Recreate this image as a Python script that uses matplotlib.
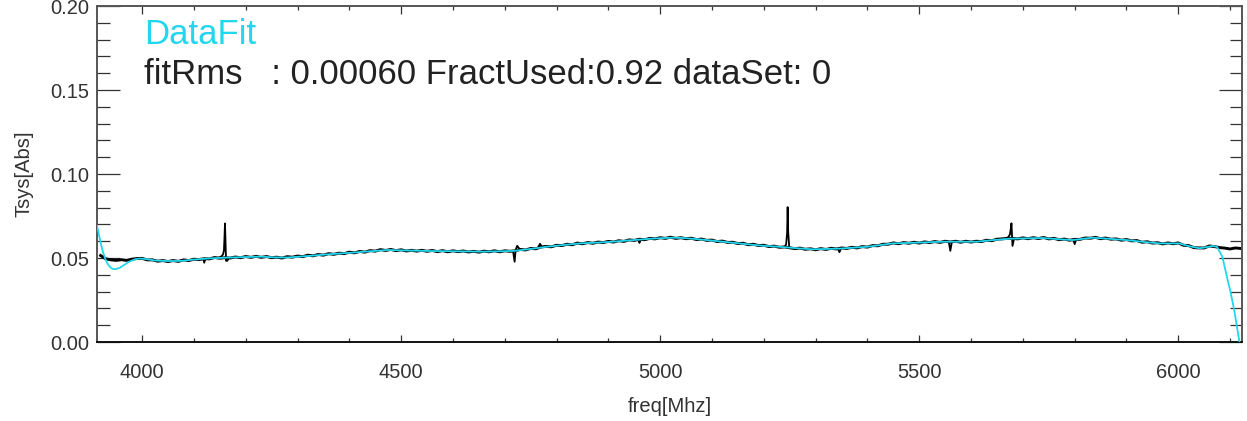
import numpy as np
import matplotlib
matplotlib.use("Agg")
from matplotlib import pyplot as plt
from matplotlib.ticker import MultipleLocator, FormatStrFormatter

plt.rcParams['font.family'] = ['Liberation Sans', 'DejaVu Sans']

# measured spectrum, 10 MHz steps from 3920 to 6120 MHz
freq = np.arange(3920, 6121, 10)
tsys = [
    0.0515, 0.0495, 0.0489, 0.0486, 0.0490, 0.0486, 0.0493, 0.0497, 0.0498, 0.0489,
    0.0489, 0.0481, 0.0485, 0.0479, 0.0485, 0.0480, 0.0489, 0.0485, 0.0493, 0.0491,
    0.0496, 0.0495, 0.0503, 0.0499, 0.0502, 0.0500, 0.0506, 0.0502, 0.0509, 0.0504,
    0.0510, 0.0504, 0.0509, 0.0502, 0.0505, 0.0500, 0.0508, 0.0505, 0.0512, 0.0508,
    0.0517, 0.0513, 0.0521, 0.0517, 0.0526, 0.0522, 0.0529, 0.0526, 0.0535, 0.0531,
    0.0539, 0.0535, 0.0544, 0.0541, 0.0550, 0.0545, 0.0551, 0.0544, 0.0549, 0.0542,
    0.0546, 0.0541, 0.0546, 0.0540, 0.0545, 0.0538, 0.0544, 0.0537, 0.0543, 0.0538,
    0.0542, 0.0536, 0.0540, 0.0535, 0.0541, 0.0537, 0.0543, 0.0537, 0.0543, 0.0540,
    0.0543, 0.0551, 0.0548, 0.0557, 0.0555, 0.0566, 0.0569, 0.0567, 0.0576, 0.0574,
    0.0582, 0.0579, 0.0589, 0.0585, 0.0592, 0.0588, 0.0595, 0.0592, 0.0599, 0.0595,
    0.0603, 0.0599, 0.0608, 0.0605, 0.0612, 0.0609, 0.0617, 0.0614, 0.0621, 0.0617,
    0.0624, 0.0617, 0.0621, 0.0615, 0.0618, 0.0610, 0.0613, 0.0605, 0.0607, 0.0598,
    0.0601, 0.0593, 0.0594, 0.0586, 0.0588, 0.0579, 0.0582, 0.0574, 0.0576, 0.0568,
    0.0571, 0.0564, 0.0566, 0.0561, 0.0556, 0.0559, 0.0552, 0.0555, 0.0549, 0.0556,
    0.0551, 0.0558, 0.0554, 0.0560, 0.0557, 0.0564, 0.0560, 0.0568, 0.0565, 0.0574,
    0.0573, 0.0582, 0.0582, 0.0590, 0.0585, 0.0592, 0.0588, 0.0594, 0.0589, 0.0596,
    0.0592, 0.0598, 0.0593, 0.0600, 0.0595, 0.0600, 0.0594, 0.0600, 0.0595, 0.0600,
    0.0598, 0.0606, 0.0603, 0.0612, 0.0614, 0.0617, 0.0617, 0.0614, 0.0620, 0.0615,
    0.0621, 0.0616, 0.0622, 0.0614, 0.0617, 0.0609, 0.0613, 0.0606, 0.0611, 0.0611,
    0.0619, 0.0618, 0.0623, 0.0615, 0.0619, 0.0612, 0.0614, 0.0606, 0.0610, 0.0602,
    0.0604, 0.0594, 0.0597, 0.0589, 0.0591, 0.0584, 0.0590, 0.0585, 0.0590, 0.0576,
    0.0574, 0.0562, 0.0560, 0.0560, 0.0572, 0.0568, 0.0562, 0.0559, 0.0554, 0.0560,
    0.0557,
]

# narrow spectral features (spikes)
spike_freqs = [
    [4146, 4152, 4156, 4158, 4159, 4160, 4161, 4162, 4164, 4168],
    [4118, 4120, 4122],
    [4716, 4719, 4721, 4724, 4727, 4730],
    [4764, 4768, 4772],
    [4957, 4960, 4963],
    [5236, 5240, 5243, 5245, 5246, 5247, 5249, 5252, 5256],
    [5343, 5346, 5349],
    [5557, 5560, 5563],
    [5668, 5672, 5675, 5677, 5678, 5679, 5680, 5683],
    [5797, 5800, 5803],
]
spike_vals = [
    [0.0500, 0.0507, 0.0520, 0.0545, 0.0620, 0.0706, 0.0600, 0.0484, 0.0483, 0.0500],
    [0.0494, 0.0472, 0.0494],
    [0.0542, 0.0478, 0.0548, 0.0573, 0.0560, 0.0551],
    [0.0560, 0.0585, 0.0565],
    [0.0610, 0.0590, 0.0612],
    [0.0565, 0.0568, 0.0580, 0.0650, 0.0803, 0.0660, 0.0565, 0.0560, 0.0560],
    [0.0555, 0.0535, 0.0556],
    [0.0597, 0.0543, 0.0597],
    [0.0617, 0.0625, 0.0640, 0.0680, 0.0707, 0.0640, 0.0572, 0.0615],
    [0.0608, 0.0583, 0.0610],
]

# fitted curve
fit_freq = [3913, 3916, 3920, 3925, 3930, 3935, 3940, 3945, 3950, 3957, 3965, 3975,
            3986, 3995, 4005, 4025, 4050, 4075, 4100, 4130, 4160, 4200, 4231, 4255,
            4280, 4320, 4359, 4410, 4474, 4510, 4552, 4610, 4658, 4690, 4716, 4750,
            4781, 4815, 4845, 4880, 4908, 4940, 4974, 5000, 5024, 5045, 5070, 5100,
            5134, 5165, 5198, 5225, 5246, 5270, 5294, 5320, 5346, 5375, 5400, 5425,
            5448, 5500, 5545, 5610, 5640, 5674, 5705, 5738, 5770, 5796, 5815, 5834,
            5865, 5900, 5930, 5963, 6002, 6020, 6041, 6055, 6066, 6075, 6085, 6095,
            6100, 6108, 6118, 6124]
fit_vals = [0.0690, 0.0650, 0.0590, 0.0530, 0.0487, 0.0458, 0.0441, 0.0434, 0.0435,
            0.0442, 0.0458, 0.0478, 0.0492, 0.0497, 0.0495, 0.0485, 0.0482, 0.0483,
            0.0491, 0.0498, 0.0502, 0.0506, 0.0508, 0.0504, 0.0503, 0.0512, 0.0522,
            0.0533, 0.0548, 0.0545, 0.0542, 0.0540, 0.0538, 0.0540, 0.0542, 0.0554,
            0.0567, 0.0578, 0.0587, 0.0592, 0.0597, 0.0605, 0.0613, 0.0618, 0.0621,
            0.0619, 0.0613, 0.0604, 0.0593, 0.0583, 0.0573, 0.0568, 0.0563, 0.0557,
            0.0552, 0.0554, 0.0556, 0.0562, 0.0567, 0.0577, 0.0587, 0.0592, 0.0597,
            0.0597, 0.0606, 0.0615, 0.0617, 0.0619, 0.0612, 0.0607, 0.0614, 0.0621,
            0.0615, 0.0607, 0.0597, 0.0587, 0.0587, 0.0571, 0.0558, 0.0565, 0.0572,
            0.0566, 0.0508, 0.0373, 0.0310, 0.0190, 0.0000, -0.0080]

fit_rms = 0.00060
fract_used = 0.92
data_set = 0

cyan = '#22d6ee'
txt = '#222222'

fig = plt.figure(figsize=(12.47, 4.21), dpi=100)
ax = fig.add_axes([0.0778, 0.1876, 0.9182, 0.798])

ax.plot(freq, tsys, color='black', lw=2.1, zorder=2)
for sf, sv in zip(spike_freqs, spike_vals):
    ax.plot(sf, sv, color='black', lw=1.3, zorder=2)
ax.plot(fit_freq, fit_vals, color=cyan, lw=1.3, zorder=3)

ax.set_xlim(3913, 6123)
ax.set_ylim(0, 0.2)

ax.xaxis.set_major_locator(MultipleLocator(500))
ax.xaxis.set_minor_locator(MultipleLocator(100))
ax.yaxis.set_major_locator(MultipleLocator(0.05))
ax.yaxis.set_minor_locator(MultipleLocator(0.01))
ax.yaxis.set_major_formatter(FormatStrFormatter('%.2f'))

ax.tick_params(axis='both', which='both', direction='in', colors='#333333',
               labelcolor='#333333', labelsize=14.5, width=0.9)
ax.tick_params(axis='y', which='both', left=True, right=True)
ax.tick_params(axis='y', which='major', length=16.5, pad=5.5)
ax.tick_params(axis='y', which='minor', length=9)
ax.tick_params(axis='x', which='both', bottom=True, top=True)
ax.tick_params(axis='x', which='major', length=5.4, pad=15)
ax.tick_params(axis='x', which='minor', length=3)

for s in ['left', 'top', 'right']:
    ax.spines[s].set_color('#555555')
    ax.spines[s].set_linewidth(1.4)
ax.spines['bottom'].set_color('#111111')
ax.spines['bottom'].set_linewidth(1.4)

fig.canvas.draw()
ylabs = ax.get_yticklabels()
ylabs[0].set_va('bottom')
ylabs[-1].set_va('top')

ax.set_xlabel('freq[Mhz]', fontsize=14.5, color='#333333', labelpad=11)
ax.set_ylabel('Tsys[Abs]', fontsize=14.5, color='#333333', labelpad=12)

ax.text(0.041, 0.914, 'DataFit', transform=ax.transAxes, fontsize=25,
        color=cyan, va='center', ha='left')
ax.text(0.041, 0.795,
        'fitRms   : %.5f FractUsed:%.2f dataSet: %d' % (fit_rms, fract_used, data_set),
        transform=ax.transAxes, fontsize=25, color=txt, va='center', ha='left')

fig.savefig('out.png', dpi=100)
